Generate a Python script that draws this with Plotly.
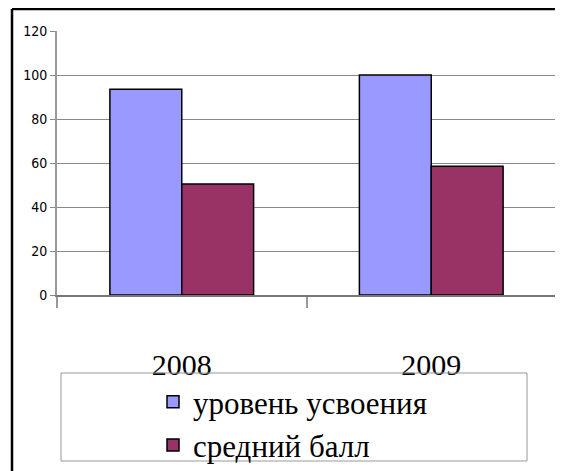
import plotly.graph_objects as go

years = ["2008", "2009"]
series_names = ["уровень усвоения", "средний балл"]
level_values = [93.5, 100]
score_values = [50.5, 58.5]
series_colors = ["#9999FF", "#993366"]
y_ticks = [0, 20, 40, 60, 80, 100, 120]

# the page body has an 8px margin; lay the figure out in page coordinates
OFF = 8
W, H = 563 - OFF, 471 - OFF
plot_left, plot_right, plot_top, plot_bottom = 57 - OFF, 556 - OFF, 31 - OFF, 295 - OFF
L, R, T, B = plot_left, W - plot_right, plot_top, H - plot_bottom
pw, ph = W - L - R, H - T - B

def px(x):
    return (x - OFF - L) / pw

def py(y):
    return (H - B - (y - OFF)) / ph

fig = go.Figure()
for name, vals, col in zip(series_names, [level_values, score_values], series_colors):
    fig.add_trace(go.Bar(
        x=years, y=vals, name=name,
        marker=dict(color=col, line=dict(color="black", width=1.5)),
    ))

fig.update_layout(
    width=W, height=H,
    margin=dict(l=L, r=R, t=T, b=B, autoexpand=False),
    paper_bgcolor="white", plot_bgcolor="white",
    barmode="group", bargap=0.424, bargroupgap=0,
    showlegend=True,
    legend=dict(
        x=px(153), xanchor="left", y=py(375), yanchor="top",
        font=dict(family="Liberation Serif, Times New Roman, serif", size=31, color="black"),
        bgcolor="rgba(0,0,0,0)", borderwidth=0, tracegroupgap=0,
    ),
    xaxis=dict(
        type="category", tickson="boundaries", ticks="outside", ticklen=11,
        tickcolor="#999999", tickwidth=1.5,
        showline=True, linecolor="#777777", linewidth=2, mirror=False,
        showgrid=False,
        tickfont=dict(family="Liberation Serif, Times New Roman, serif", size=30, color="black"),
        ticklabelstandoff=42,
    ),
    yaxis=dict(
        range=[0, 120], tickvals=y_ticks, ticks="outside", ticklen=5,
        tickcolor="#888888", tickwidth=1,
        showline=True, linecolor="#999999", linewidth=2, mirror=True,
        showgrid=True, gridcolor="#888888", gridwidth=1,
        zeroline=False,
        tickfont=dict(family="DejaVu Sans Condensed, Liberation Sans Narrow, Arial Narrow, sans-serif", size=14, color="black"),
    ),
    shapes=[
        # outer chart border (top & left visible)
        dict(type="line", xref="paper", yref="paper", x0=px(12), x1=px(580), y0=py(9), y1=py(9),
             line=dict(color="black", width=2.5)),
        dict(type="line", xref="paper", yref="paper", x0=px(12), x1=px(12), y0=py(9), y1=py(490),
             line=dict(color="black", width=2.5)),
        # legend box
        dict(type="rect", xref="paper", yref="paper", x0=px(61), x1=px(527), y0=py(461), y1=py(373),
             line=dict(color="#999999", width=1)),
    ],
)

fig.write_html("out.html")
